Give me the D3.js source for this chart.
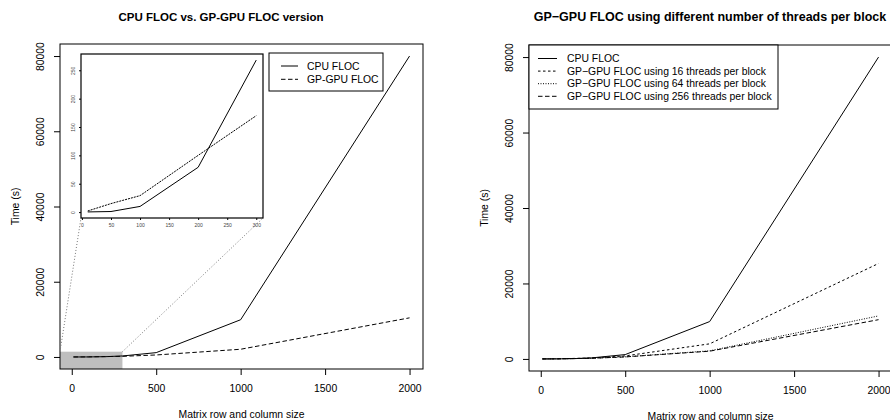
<!DOCTYPE html>
<html>
<head>
<meta charset="utf-8">
<script src="https://cdn.jsdelivr.net/npm/d3@7"></script>
<style>
  body { margin: 0; background: #fff; }
  text { font-family: "Liberation Sans", Arial, sans-serif; fill: #000; }
</style>
</head>
<body>
<svg id="chart" width="890" height="420"></svg>
<script>
// matrix sizes (x) and timings in seconds
const sizes = [10, 50, 100, 200, 300, 500, 1000, 2000];
const cpuFloc = [0.3, 1, 10, 79, 268, 1150, 9900, 80000];
const gpuFloc = [2, 15, 29, 100, 170, 530, 2050, 10400];
const gpu16 = [3, 20, 40, 140, 250, 800, 4000, 25300];
const gpu64 = [2, 15, 30, 105, 180, 560, 2150, 11400];
const gpu256 = [2, 15, 29, 100, 170, 530, 2050, 10400];

// the inset only shows the small sizes
const insetMax = 300;

// tick labels
const xTicks = [0, 500, 1000, 1500, 2000];
const yTicks = [0, 20000, 40000, 60000, 80000];
const insetXTicks = [0, 50, 100, 150, 200, 250, 300];
const insetYTicks = [0, 50, 100, 150, 200, 250];

const leftSeries = [
    {name: "CPU FLOC", values: cpuFloc, dash: null},
    {name: "GP-GPU FLOC", values: gpuFloc, dash: "4.5,2.5"}
];
const rightSeries = [
    {name: "CPU FLOC", values: cpuFloc, dash: null},
    {name: "GP\u2212GPU FLOC using 16 threads per block", values: gpu16, dash: "2.5,2.5"},
    {name: "GP\u2212GPU FLOC using 64 threads per block", values: gpu64, dash: "1,1.5"},
    {name: "GP\u2212GPU FLOC using 256 threads per block", values: gpu256, dash: "4.5,2.5"}
];

const svg = d3.select("#chart");
const fs = 10.4;

// R pads the data range by 4% on each side
function rPad(arr) {
    let [lo, hi] = d3.extent(arr);
    let d = (hi - lo) * 0.04;
    return [lo - d, hi + d];
}

function drawPanel(opt) {
    const g = svg.append("g");
    const b = opt.box;
    const x = d3.scaleLinear().domain(rPad(sizes)).range([b.x0, b.x1]);
    const allY = opt.series.flatMap(s => s.values);
    const y = d3.scaleLinear().domain(rPad(allY)).range([b.y1, b.y0]);

    const clipId = "clip" + opt.id;
    svg.append("clipPath").attr("id", clipId)
        .append("rect")
        .attr("x", b.x0).attr("y", b.y0)
        .attr("width", b.x1 - b.x0).attr("height", b.y1 - b.y0);

    const plot = g.append("g").attr("clip-path", "url(#" + clipId + ")");

    // zoom region for the inset
    if (opt.inset) {
        plot.append("rect")
            .attr("x", x(x.domain()[0]))
            .attr("y", y(opt.inset.yTop))
            .attr("width", x(insetMax) - x(x.domain()[0]))
            .attr("height", y(y.domain()[0]) - y(opt.inset.yTop))
            .attr("fill", "#bebebe");
    }

    const line = d3.line()
        .x((d, i) => x(sizes[i]))
        .y(d => y(d));

    opt.series.forEach(s => {
        plot.append("path")
            .datum(s.values)
            .attr("d", line)
            .attr("fill", "none")
            .attr("stroke", "#000")
            .attr("stroke-width", 1)
            .attr("stroke-dasharray", s.dash);
    });

    // axes
    const xAxis = g.append("g")
        .attr("transform", "translate(0," + b.y1 + ")")
        .call(d3.axisBottom(x).tickValues(xTicks).tickSize(6).tickPadding(10).tickFormat(d3.format("d")));
    xAxis.select(".domain").remove();
    xAxis.selectAll("text").style("font-size", fs + "px");

    const yAxis = g.append("g")
        .attr("transform", "translate(" + b.x0 + ",0)")
        .call(d3.axisLeft(y).tickValues(yTicks).tickSize(6).tickFormat(d3.format("d")));
    yAxis.select(".domain").remove();
    yAxis.selectAll("text")
        .attr("transform", "rotate(-90)")
        .attr("x", 0).attr("y", -19.5).attr("dy", null)
        .attr("text-anchor", "middle")
        .attr("dominant-baseline", "central")
        .style("font-size", fs + "px");

    g.append("rect")
        .attr("x", b.x0).attr("y", b.y0)
        .attr("width", b.x1 - b.x0).attr("height", b.y1 - b.y0)
        .attr("fill", "none").attr("stroke", "#000").attr("stroke-width", 1);

    // titles
    g.append("text")
        .attr("x", opt.titleX).attr("y", 17)
        .attr("text-anchor", "middle").attr("dominant-baseline", "central")
        .style("font-size", opt.titleSize + "px").style("font-weight", "bold")
        .text(opt.title);
    g.append("text")
        .attr("x", (b.x0 + b.x1) / 2).attr("y", b.y1 + 45.5)
        .attr("text-anchor", "middle").attr("dominant-baseline", "central")
        .style("font-size", fs + "px")
        .text("Matrix row and column size");
    g.append("text")
        .attr("transform", "translate(" + (b.x0 - 44.5) + "," + ((b.y0 + b.y1) / 2) + ") rotate(-90)")
        .attr("text-anchor", "middle").attr("dominant-baseline", "central")
        .style("font-size", fs + "px")
        .text("Time (s)");

    if (opt.inset) drawInset(g, opt.inset, x, y, opt.series);

    // legend
    const lg = opt.legend;
    g.append("rect")
        .attr("x", lg.x0).attr("y", lg.y0)
        .attr("width", lg.x1 - lg.x0).attr("height", lg.y1 - lg.y0)
        .attr("fill", "#fff").attr("stroke", "#000").attr("stroke-width", 1);
    opt.series.forEach((s, i) => {
        let yy = lg.first + i * lg.step;
        g.append("line")
            .attr("x1", lg.lineX0).attr("x2", lg.lineX1)
            .attr("y1", yy).attr("y2", yy)
            .attr("stroke", "#000").attr("stroke-width", 1)
            .attr("stroke-dasharray", s.dash);
        g.append("text")
            .attr("x", lg.textX).attr("y", yy)
            .attr("dominant-baseline", "central")
            .style("font-size", fs + "px")
            .text(s.name);
    });
}

function drawInset(g, ins, mainX, mainY, series) {
    const b = ins.box;
    const n = sizes.filter(s => s <= insetMax).length;
    const xs = sizes.slice(0, n);
    const x = d3.scaleLinear().domain(rPad(xs)).range([b.x0, b.x1]);
    const y = d3.scaleLinear()
        .domain(rPad(series.flatMap(s => s.values.slice(0, n))))
        .range([b.y1, b.y0]);

    // dotted connectors from the grey region to the inset
    const conn = [
        [[mainX(mainX.domain()[0]), mainY(ins.yTop)], [b.x0, b.y1]],
        [[mainX(insetMax), mainY(ins.yTop)], [b.x1, b.y1]]
    ];
    conn.forEach(c => {
        g.append("line")
            .attr("x1", c[0][0]).attr("y1", c[0][1])
            .attr("x2", c[1][0]).attr("y2", c[1][1])
            .attr("stroke", "#777").attr("stroke-width", 1)
            .attr("stroke-dasharray", "1,2");
    });

    g.append("rect")
        .attr("x", b.x0).attr("y", b.y0)
        .attr("width", b.x1 - b.x0).attr("height", b.y1 - b.y0)
        .attr("fill", "#fff");

    const line = d3.line().x((d, i) => x(xs[i])).y(d => y(d));
    series.forEach(s => {
        g.append("path")
            .datum(s.values.slice(0, n))
            .attr("d", line)
            .attr("fill", "none")
            .attr("stroke", "#000")
            .attr("stroke-width", 1)
            .attr("stroke-dasharray", s.dash ? "2,1" : null);
    });

    const xa = g.append("g")
        .attr("transform", "translate(0," + b.y1 + ")")
        .call(d3.axisBottom(x).tickValues(insetXTicks).tickSize(2).tickPadding(3));
    xa.select(".domain").remove();
    xa.selectAll("text").style("font-size", "5px").style("fill", "#444");

    const ya = g.append("g")
        .attr("transform", "translate(" + b.x0 + ",0)")
        .call(d3.axisLeft(y).tickValues(insetYTicks).tickSize(2));
    ya.select(".domain").remove();
    ya.selectAll("text")
        .attr("transform", "rotate(-90)")
        .attr("x", 0).attr("y", -8.5).attr("dy", null)
        .attr("text-anchor", "middle")
        .attr("dominant-baseline", "central")
        .style("font-size", "5px").style("fill", "#444");

    g.append("rect")
        .attr("x", b.x0).attr("y", b.y0)
        .attr("width", b.x1 - b.x0).attr("height", b.y1 - b.y0)
        .attr("fill", "none").attr("stroke", "#000").attr("stroke-width", 1.2);
}

drawPanel({
    id: "left",
    box: {x0: 60, x1: 423, y0: 44, y1: 369},
    series: leftSeries,
    title: "CPU FLOC vs. GP-GPU FLOC version",
    titleX: 221, titleSize: 11.5,
    inset: {box: {x0: 81, x1: 263, y0: 54, y1: 218}, yTop: 1400},
    legend: {x0: 269, x1: 383, y0: 53, y1: 91, first: 66, step: 13.3, lineX0: 281, lineX1: 298, textX: 307}
});

drawPanel({
    id: "right",
    box: {x0: 529, x1: 892, y0: 45, y1: 371},
    series: rightSeries,
    title: "GP\u2212GPU FLOC using different number of threads per block",
    titleX: 710, titleSize: 12.5,
    legend: {x0: 529, x1: 778, y0: 45, y1: 109, first: 58.5, step: 12.6, lineX0: 538, lineX1: 557, textX: 567}
});
</script>
</body>
</html>
